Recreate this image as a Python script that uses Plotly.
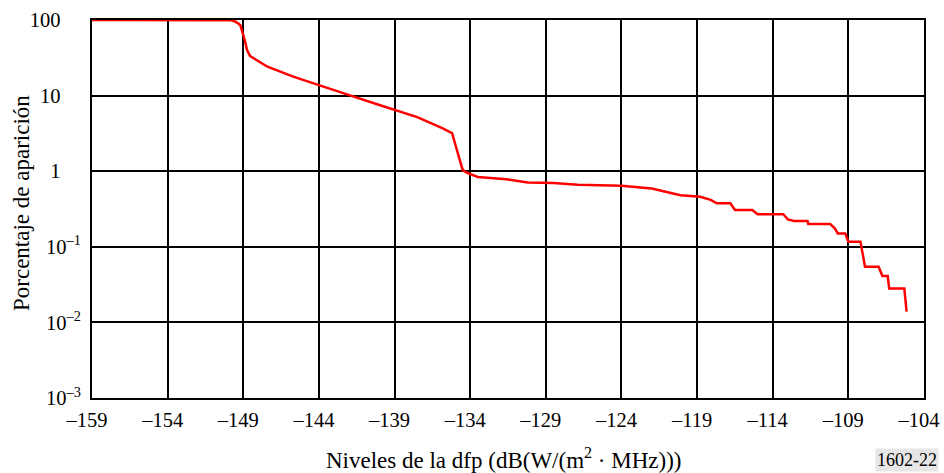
import plotly.graph_objects as go

# Curve data (dB level, percentage)
pfd_db = [-159.0, -150.2, -149.8, -149.5, -149.2, -148.9, -148.75, -148.55,
          -147.4, -145.7, -143.9, -141.9, -140.0, -139.0, -137.5, -135.85, -135.2,
          -134.5, -134.2, -133.5, -132.7, -131.6, -130.2, -128.5, -126.9,
          -124.0, -122.0, -120.1, -118.8, -118.1, -117.7, -116.8, -116.5,
          -115.35, -115.0, -113.3, -113.0, -112.6, -111.7, -111.65, -110.2,
          -109.9, -109.7, -109.2, -109.0, -108.2, -107.9, -107.0, -106.75,
          -106.4, -106.3, -105.3, -105.15]
percent = [100, 100, 99, 95, 86, 54, 40, 33.4,
           24.1, 17.8, 13.4, 10.0, 7.5, 6.46, 5.2, 3.72, 3.2,
           1.04, 0.95, 0.84, 0.82, 0.78, 0.71, 0.70, 0.66,
           0.64, 0.59, 0.48, 0.46, 0.417, 0.376, 0.376, 0.307,
           0.307, 0.27, 0.27, 0.23, 0.22, 0.22, 0.20, 0.20,
           0.176, 0.15, 0.15, 0.117, 0.117, 0.0546, 0.0546, 0.041,
           0.041, 0.028, 0.028, 0.0139]

x_ticks = [-159, -154, -149, -144, -139, -134, -129, -124, -119, -114, -109, -104]
x_ticktext = ["–159", "–154", "–149", "–144", "–139", "–134", "–129", "–124",
              "–119", "–114", "–109", "–104"]
y_ticks = [100, 10, 1, 0.1, 0.01, 0.001]
PAD = "\u2002\u2002"
y_ticktext = ["100" + PAD, "10" + PAD, "1" + PAD,
              "10<sup>–1</sup>", "10<sup>–2</sup>", "10<sup>–3</sup>"]

FONT = "Liberation Serif"

fig = go.Figure()
fig.add_trace(go.Scatter(x=pfd_db, y=percent, mode="lines",
                         line=dict(color="#ff0000", width=2.5), showlegend=False))

fig.update_layout(
    width=944, height=473,
    margin=dict(l=92, r=20, t=20, b=75, autoexpand=False),
    paper_bgcolor="white", plot_bgcolor="white",
    font=dict(family=FONT, size=20, color="black"),
    xaxis=dict(range=[-159, -104], tickvals=x_ticks, ticktext=x_ticktext,
               showgrid=True, gridcolor="black", gridwidth=2,
               showline=True, linecolor="black", linewidth=2, mirror=True,
               ticks="outside", ticklen=2, tickcolor="rgba(0,0,0,0)",
               ticklabelshift=-5,
               zeroline=False, automargin=False, ticklabeloverflow="allow",
               tickfont=dict(family=FONT, size=20.5)),
    yaxis=dict(type="log", range=[-3, 2], tickvals=y_ticks, ticktext=y_ticktext,
               showgrid=True, gridcolor="black", gridwidth=2,
               showline=True, linecolor="black", linewidth=2, mirror=True,
               ticks="outside", ticklen=5, tickcolor="rgba(0,0,0,0)",
               zeroline=False, automargin=False, ticklabeloverflow="allow",
               tickfont=dict(family=FONT, size=20.5)),
    annotations=[
        dict(text="Niveles de la dfp (dB(W/(m<sup>2</sup> · MHz)))", xref="paper", yref="paper",
             x=0.495, y=-0.159, showarrow=False, font=dict(family=FONT, size=23),
             xanchor="center", yanchor="middle"),
        dict(text="Porcentaje de aparición", xref="paper", yref="paper",
             x=-0.0845, y=0.515, textangle=-90, showarrow=False,
             font=dict(family=FONT, size=23),
             xanchor="center", yanchor="middle"),
        dict(text="1602-22", xref="paper", yref="paper",
             x=0.98, y=-0.164, showarrow=False, font=dict(family=FONT, size=18),
             bgcolor="#e6e6e6", borderpad=1, xanchor="center", yanchor="middle"),
    ],
)

fig.write_html("out.html")
